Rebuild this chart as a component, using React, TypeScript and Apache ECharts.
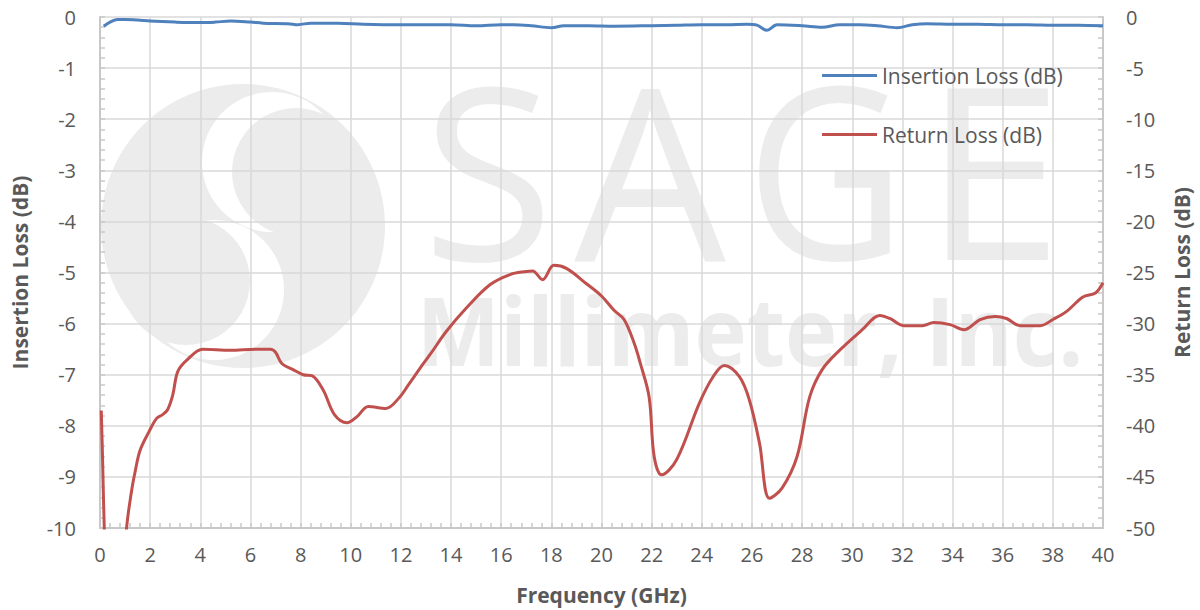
import React, { useEffect, useRef } from "react";
import * as echarts from "echarts";

// Frequency ticks (GHz)
const xMin = 0;
const xMax = 40;
const xStep = 2;

// Insertion loss (dB), left axis
const ilFreq = [0.15, 0.4, 0.7, 1.0, 1.5, 2.0, 3.0, 4.0, 4.6, 5.2, 6.0, 6.5, 7.5, 7.9, 8.4, 9.5, 10.5, 12, 13, 14, 15, 16, 16.5, 17.2, 18, 18.5, 19.5, 20.5, 22, 23, 24, 25, 25.8, 26.2, 26.6, 27.0, 28, 28.8, 29.5, 30.3, 31, 31.8, 32.4, 33, 34, 35, 36, 37, 38, 39, 40];
const ilValues = [-0.18, -0.1, -0.05, -0.05, -0.06, -0.08, -0.1, -0.11, -0.1, -0.08, -0.1, -0.12, -0.13, -0.15, -0.12, -0.12, -0.14, -0.15, -0.15, -0.15, -0.17, -0.15, -0.15, -0.17, -0.21, -0.17, -0.17, -0.18, -0.17, -0.16, -0.15, -0.15, -0.14, -0.16, -0.26, -0.15, -0.17, -0.2, -0.15, -0.15, -0.17, -0.21, -0.15, -0.13, -0.14, -0.14, -0.15, -0.15, -0.16, -0.16, -0.17];

// Return loss (dB), right axis
const rlFreq = [0.05, 0.1, 0.17, 0.3, 0.6, 0.9, 1.06, 1.25, 1.4, 1.6, 1.95, 2.25, 2.5, 2.7, 2.9, 3.1, 3.45, 4.1, 5.2, 6.2, 6.8, 7.0, 7.25, 7.7, 8.1, 8.45, 8.9, 9.35, 9.85, 10.25, 10.7, 11.4, 11.95, 12.3, 12.9, 13.2, 13.8, 14.6, 15.55, 16.35, 17.0, 17.25, 17.65, 18.1, 18.6, 19.4, 20.0, 20.5, 20.9, 21.3, 21.55, 21.9, 22.1, 22.4, 23.0, 23.9, 24.45, 24.9, 25.5, 25.9, 26.3, 26.7, 27.2, 27.8, 28.3, 28.8, 29.5, 30.4, 31.1, 31.5, 32.05, 32.8, 33.25, 33.9, 34.45, 35.1, 35.7, 36.15, 36.7, 37.5, 38.0, 38.55, 39.2, 39.7, 40.0];
const rlValues = [-38.5, -43, -50, -58, -62, -56, -50, -46.5, -44.5, -42.4, -40.6, -39.3, -38.9, -38.4, -37, -34.7, -33.6, -32.5, -32.6, -32.5, -32.5, -32.8, -33.9, -34.5, -35.0, -35.1, -36.5, -38.9, -39.7, -39.1, -38.1, -38.3, -37.2, -36, -33.9, -32.9, -30.8, -28.5, -26.2, -25.2, -24.9, -24.85, -25.7, -24.3, -24.6, -26.1, -27.3, -28.7, -29.6, -31.9, -33.9, -37.2, -43, -44.8, -43.3, -37.8, -35.2, -34.1, -35.2, -37.5, -41.7, -47.1, -46.1, -43, -37.2, -34.5, -32.6, -30.6, -29.2, -29.5, -30.2, -30.2, -29.9, -30.1, -30.6, -29.6, -29.3, -29.5, -30.2, -30.2, -29.6, -28.8, -27.4, -27.0, -26.0];

const ilName = "Insertion Loss (dB)";
const rlName = "Return Loss (dB)";
const xTitle = "Frequency (GHz)";

const TEXT = "#595959";
const GRID = "#d9d9d9";
const AXIS = "#c8c8c8";
const WM = "#ececec";
const FONT = "'Open Sans', 'Noto Sans', sans-serif";

export default function App() {
  const ref = useRef<HTMLDivElement>(null);
  useEffect(() => {
    if (!ref.current) return;
    const chart = echarts.init(ref.current, undefined, { renderer: "svg" });
    const ilData = ilFreq.map((f, i) => [f, ilValues[i]]);
    const rlData = rlFreq.map((f, i) => [f, rlValues[i]]);
    const wmText = (text: string, x: number, y: number, size: number, weight: string, sx = 1) => ({
      type: "text",
      x,
      y,
      scaleX: sx,
      z: -1,
      silent: true,
      style: {
        text,
        x: 0,
        y: 0,
        fontSize: size,
        fontFamily: FONT,
        fontWeight: weight,
        fill: WM,
        textAlign: "center",
        align: "center",
        textVerticalAlign: "middle",
        verticalAlign: "middle",
      },
    });
    const circ = (cx: number, cy: number, r: number, fill: string) => ({
      type: "circle",
      z: -1,
      silent: true,
      shape: { cx, cy, r },
      style: { fill },
    });
    const titleStyle = { color: TEXT, fontSize: 21, fontWeight: "bold", fontFamily: FONT };
    chart.setOption({
      animation: false,
      textStyle: { fontFamily: FONT },
      grid: { left: 100, right: 97, top: 17, bottom: 82, outerBoundsMode: "none", containLabel: false },
      graphic: {
        elements: [
          circ(243, 226, 142, WM),
          circ(272, 162, 70, "#ffffff"),
          circ(214, 290, 70, "#ffffff"),
          circ(296, 172, 64, WM),
          circ(186, 281, 64, WM),
          wmText("S", 488, 167, 240, "normal"),
          wmText("A", 650, 167, 240, "normal"),
          wmText("G", 826, 167, 240, "normal", 0.92),
          wmText("E", 993, 167, 240, "normal", 1.05),
          wmText("Millimeter, Inc.", 750, 329, 95, "bold", 0.93),
        ],
      },
      legend: {
        orient: "vertical",
        left: 822,
        top: 65,
        padding: 0,
        itemGap: 38,
        itemWidth: 55,
        itemHeight: 3,
        icon: "rect",
        data: [ilName, rlName],
        textStyle: { color: TEXT, fontSize: 21, lineHeight: 21, fontFamily: FONT },
      },
      xAxis: {
        type: "value",
        min: xMin,
        max: xMax,
        interval: xStep,
        name: xTitle,
        nameLocation: "middle",
        nameGap: 56,
        nameTextStyle: titleStyle,
        axisLine: { show: true, onZero: false, lineStyle: { color: AXIS, width: 2 } },
        axisTick: { show: true, inside: true, length: 5, lineStyle: { color: AXIS, width: 1.5 } },
        minorTick: { show: true, splitNumber: 5, length: 5, lineStyle: { color: AXIS, width: 1.5 } },
        axisLabel: { color: TEXT, fontSize: 20, margin: 16, fontFamily: FONT },
        splitLine: { show: true, lineStyle: { color: GRID, width: 1.5 } },
      },
      yAxis: [
        {
          type: "value",
          min: -10,
          max: 0,
          interval: 1,
          position: "left",
          name: ilName,
          nameLocation: "middle",
          nameRotate: 90,
          nameGap: 70,
          nameTextStyle: titleStyle,
          axisLine: { show: true, lineStyle: { color: AXIS, width: 2 } },
          axisTick: { show: true, inside: true, length: 5, lineStyle: { color: AXIS, width: 1.5 } },
          minorTick: { show: true, splitNumber: 5, length: 5, lineStyle: { color: AXIS, width: 1.5 } },
          axisLabel: { color: TEXT, fontSize: 20, margin: 24, fontFamily: FONT },
          splitLine: { show: true, lineStyle: { color: GRID, width: 1.5 } },
        },
        {
          type: "value",
          min: -50,
          max: 0,
          interval: 5,
          position: "right",
          name: rlName,
          nameLocation: "middle",
          nameRotate: 90,
          nameGap: 68,
          nameTextStyle: titleStyle,
          axisLine: { show: true, lineStyle: { color: AXIS, width: 2 } },
          axisTick: { show: true, inside: true, length: 5, lineStyle: { color: AXIS, width: 1.5 } },
          minorTick: { show: true, splitNumber: 5, length: 5, lineStyle: { color: AXIS, width: 1.5 } },
          axisLabel: { color: TEXT, fontSize: 20, margin: 23, fontFamily: FONT },
          splitLine: { show: false },
        },
      ],
      series: [
        {
          name: ilName,
          type: "line",
          yAxisIndex: 0,
          data: ilData,
          smooth: 0.35,
          symbol: "none",
          clip: true,
          color: "#4f81bd",
          lineStyle: { color: "#4f81bd", width: 3 },
        },
        {
          name: rlName,
          type: "line",
          yAxisIndex: 1,
          data: rlData,
          smooth: 0.35,
          symbol: "none",
          clip: true,
          color: "#c0504d",
          lineStyle: { color: "#c0504d", width: 3 },
        },
      ],
    });
    return () => chart.dispose();
  }, []);
  return (
    <div
      ref={ref}
      style={{ position: "fixed", left: 0, top: 0, width: 1200, height: 610, background: "#ffffff" }}
    />
  );
}
